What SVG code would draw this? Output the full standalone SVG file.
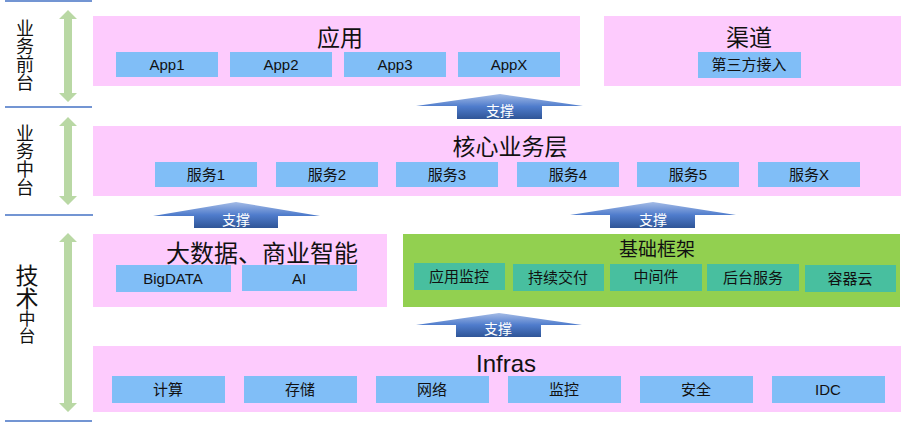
<svg xmlns="http://www.w3.org/2000/svg" width="902" height="423" viewBox="0 0 902 423">
<defs>
<linearGradient id="ag" x1="0" y1="0" x2="0" y2="1">
<stop offset="0" stop-color="#a4bbe6"/>
<stop offset="0.5" stop-color="#4f7ccc"/>
<stop offset="1" stop-color="#2f5597"/>
</linearGradient>
<style>
text{font-family:"Liberation Sans","Noto Sans CJK SC",sans-serif;text-anchor:middle;fill:#111}
.pk{fill:#fdcbfd}
.bl{fill:#80bef7}
.tl{fill:#48bf9f}
.gr{fill:#92d050}
.t{font-size:15px}
.h{font-size:23px}
.w{fill:#fff;font-size:14px}
.sep{stroke:#4472c4;stroke-width:1.5}
.dbl{fill:#b9d8a4}
.up{fill:url(#ag)}
.v{writing-mode:vertical-rl;text-anchor:start}
</style>
</defs>
<g id="left">
<line class="sep" x1="5" y1="1" x2="92" y2="1"/>
<line class="sep" x1="5" y1="107" x2="92" y2="107"/>
<line class="sep" x1="5" y1="215" x2="93" y2="215"/>
<line class="sep" x1="5" y1="421" x2="92" y2="421"/>
<text class="v" x="23" y="19" style="font-size:18px">业务前台</text>
<text class="v" x="23" y="124" style="font-size:18px">业务中台</text>
<text class="v" x="25" y="264"><tspan style="font-size:23px">技术</tspan><tspan style="font-size:17px">中台</tspan></text>
<polygon class="dbl" points="68,10 77,19 72,19 72,93 77,93 68,102 59,93 64,93 64,19 59,19"/>
<polygon class="dbl" points="68,117 77,126 72,126 72,196 77,196 68,205 59,196 64,196 64,126 59,126"/>
<polygon class="dbl" points="68,233 77,242 72,242 72,403 77,403 68,412 59,403 64,403 64,242 59,242"/>
</g>
<g id="app">
<rect class="pk" x="93" y="16" width="487" height="70"/>
<text class="h" x="340" y="46">应用</text>
<rect class="bl" x="116" y="52" width="102" height="25"/><text class="t" x="167" y="70">App1</text>
<rect class="bl" x="230" y="52" width="102" height="25"/><text class="t" x="281" y="70">App2</text>
<rect class="bl" x="344" y="52" width="102" height="25"/><text class="t" x="395" y="70">App3</text>
<rect class="bl" x="458" y="52" width="102" height="25"/><text class="t" x="509" y="70">AppX</text>
</g>
<g id="channel">
<rect class="pk" x="604" y="16" width="297" height="70"/>
<text class="h" x="749" y="46">渠道</text>
<rect class="bl" x="698" y="52" width="103" height="26"/><text class="t" x="749" y="70">第三方接入</text>
</g>
<g id="core">
<rect class="pk" x="93" y="126" width="808" height="70"/>
<text class="h" x="510" y="155">核心业务层</text>
<rect class="bl" x="155" y="162" width="102" height="25"/><text class="t" x="206" y="180">服务1</text>
<rect class="bl" x="276" y="162" width="102" height="25"/><text class="t" x="327" y="180">服务2</text>
<rect class="bl" x="396" y="162" width="102" height="25"/><text class="t" x="447" y="180">服务3</text>
<rect class="bl" x="517" y="162" width="102" height="25"/><text class="t" x="568" y="180">服务4</text>
<rect class="bl" x="637" y="162" width="102" height="25"/><text class="t" x="688" y="180">服务5</text>
<rect class="bl" x="758" y="162" width="102" height="25"/><text class="t" x="809" y="180">服务X</text>
</g>
<g id="bigdata">
<rect class="pk" x="93" y="234" width="294" height="73"/>
<text x="262" y="262" style="font-size:24px">大数据、商业智能</text>
<rect class="bl" x="116" y="265" width="115" height="27"/><text class="t" x="173" y="284">BigDATA</text>
<rect class="bl" x="242" y="265" width="115" height="26"/><text class="t" x="299" y="284">AI</text>
</g>
<g id="framework">
<rect class="gr" x="403" y="234" width="497" height="73"/>
<text x="657" y="256" style="font-size:19px">基础框架</text>
<rect class="tl" x="414" y="263" width="91" height="27"/><text class="t" x="459" y="282">应用监控</text>
<rect class="tl" x="513" y="264" width="91" height="27"/><text class="t" x="558" y="283">持续交付</text>
<rect class="tl" x="610" y="264" width="92" height="27"/><text class="t" x="656" y="282">中间件</text>
<rect class="tl" x="707" y="264" width="92" height="27"/><text class="t" x="753" y="283">后台服务</text>
<rect class="tl" x="805" y="265" width="91" height="27"/><text class="t" x="850" y="284">容器云</text>
</g>
<g id="infras">
<rect class="pk" x="93" y="346" width="808" height="66"/>
<text x="506" y="372" style="font-size:24px">Infras</text>
<rect class="bl" x="112" y="376" width="113" height="27"/><text class="t" x="168" y="395">计算</text>
<rect class="bl" x="244" y="376" width="113" height="27"/><text class="t" x="300" y="395">存储</text>
<rect class="bl" x="376" y="376" width="113" height="27"/><text class="t" x="432" y="395">网络</text>
<rect class="bl" x="508" y="376" width="113" height="27"/><text class="t" x="564" y="395">监控</text>
<rect class="bl" x="640" y="376" width="113" height="27"/><text class="t" x="696" y="395">安全</text>
<rect class="bl" x="772" y="376" width="113" height="27"/><text class="t" x="828" y="395">IDC</text>
</g>
<g id="connectors">
<polygon class="up" points="500,94 583,106 542,106 542,119 457,119 457,106 416,106"/>
<text class="w" x="500" y="116">支撑</text>
<polygon class="up" points="236,202 320,216 278,216 278,228 194,228 194,216 153,216"/>
<text class="w" x="236" y="225">支撑</text>
<polygon class="up" points="653,202 736,215 695,215 695,228 610,228 610,215 570,215"/>
<text class="w" x="653" y="225">支撑</text>
<polygon class="up" points="499,313 582,325 541,325 541,337 456,337 456,325 416,325"/>
<text class="w" x="498" y="334">支撑</text>
</g>
</svg>
